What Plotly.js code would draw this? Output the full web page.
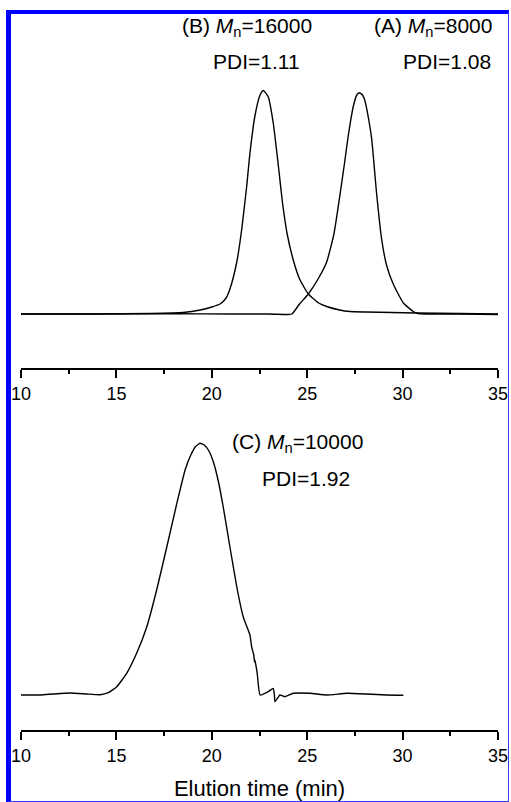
<!DOCTYPE html>
<html>
<head>
<meta charset="utf-8">
<script src="https://cdn.plot.ly/plotly-3.0.1.min.js"></script>
<style>
  html, body { margin: 0; padding: 0; background: #ffffff; }
  #chart { width: 511px; height: 802px; position: absolute; left: 0; top: 0; }
  #frame { position: absolute; left: 6px; top: 10px; width: 503px; height: 792px; box-sizing: border-box;
           border-left: 5px solid #0000ff; border-top: 4px solid #0000ff;
           border-right: 1px solid #3a3aff; border-bottom: 1px solid #3a3aff; pointer-events: none; }
</style>
</head>
<body>
<div id="chart"></div>
<div id="frame"></div>
<script>
// Elution time (min) and detector signal (arbitrary units)
const timeA = [10, 14, 18, 21, 23, 24.0, 24.2, 24.6, 25.06, 25.6, 26.02, 26.4, 26.7, 26.95, 27.15, 27.42, 27.6, 27.73, 27.9, 28.03, 28.2, 28.38, 28.64, 28.9, 29.17, 29.51, 30.04, 30.56, 30.8, 33, 35];
const sigA  = [0, 0, 0.3, 0, 0, -0.5, 0, 10, 20, 36, 52, 80, 117, 150, 178, 208, 219, 221.3, 219, 213, 197, 175, 120, 75, 48, 30, 11, 2.5, 0.5, 0, -0.5];

const timeB = [10, 14, 16.8, 18.5, 19.4, 20.0, 20.43, 20.75, 20.95, 21.3, 21.57, 21.83, 22.0, 22.26, 22.53, 22.70, 22.96, 23.22, 23.49, 23.7, 23.95, 24.27, 24.6, 25.06, 25.6, 26.02, 26.7, 27.24, 28.1, 30.7, 33, 35];
const sigB  = [0, 0, 0.5, 1.5, 4, 7, 10, 16, 25, 51, 85, 128, 161, 198, 219, 223.5, 217, 191, 148, 112, 80, 54, 35, 20, 11, 7.5, 4, 2.5, 2, 1, 0.5, 0];

const timeC = [10, 11.0, 11.69, 12.57, 13.44, 14.14, 14.58, 15.02, 15.54, 16.06, 16.59, 17.11, 17.64, 18.16, 18.6, 18.9, 19.15, 19.38, 19.6, 19.85, 20.1, 20.35, 20.60, 20.95, 21.31, 21.65, 22.0, 22.09, 22.2, 22.24, 22.26, 22.38, 22.53, 22.96, 23.22, 23.28, 23.31, 23.57, 23.84, 24.27, 25.15, 26.02, 27.07, 28.12, 29.17, 30.04];
const sigC  = [0, 0, 1, 2, 1, 0.3, 2.3, 8.3, 21.7, 41.7, 68, 105, 148, 191, 225, 240, 248.5, 251.7, 250, 244, 232, 213, 188, 148, 108, 78, 60, 48, 40, 33, 35, 21.7, 0, 3.3, 6.7, 0, -6.7, 0, -1.7, 1.7, 1.7, 0, 1.7, 1, 0, -0.3];

const xTicks = [10, 15, 20, 25, 30, 35];

// sample labels
const labelsTop = ['(B) <i>M</i><sub>n</sub>=16000', 'PDI=1.11', '(A) <i>M</i><sub>n</sub>=8000', 'PDI=1.08'];
const labelsBottom = ['(C) <i>M</i><sub>n</sub>=10000', 'PDI=1.92'];

const lineStyle = {color: '#000000', width: 1.4, shape: 'spline', smoothing: 0.5};

const traces = [
  {x: timeB, y: sigB, type: 'scatter', mode: 'lines', line: lineStyle, xaxis: 'x', yaxis: 'y', name: 'B', hoverinfo: 'skip'},
  {x: timeA, y: sigA, type: 'scatter', mode: 'lines', line: lineStyle, xaxis: 'x', yaxis: 'y', name: 'A', hoverinfo: 'skip'},
  {x: timeC, y: sigC, type: 'scatter', mode: 'lines', line: {color: '#000000', width: 1.4, shape: 'spline', smoothing: 0.4}, xaxis: 'x2', yaxis: 'y2', name: 'C', hoverinfo: 'skip'}
];

const fontFam = '"Liberation Sans", Arial, sans-serif';
const xAxisBase = {
  range: [10, 35], showline: true, linecolor: '#000', linewidth: 2,
  ticks: 'outside', ticklen: 8, tickwidth: 2, tickcolor: '#000',
  tickvals: xTicks, ticktext: xTicks.map(String),
  minor: {ticks: 'outside', ticklen: 4, tickwidth: 2, tickcolor: '#000', dtick: 2.5, tick0: 10, showgrid: false},
  showgrid: false, zeroline: false,
  tickfont: {family: fontFam, size: 18, color: '#000'}
};

const annFont = {family: fontFam, size: 21, color: '#000'};
function pxX(px) { return (px - 21) / 477; }
function pxY(py) { return (730 - py) / 730; }

const labelPos = [[246.5, 27], [256, 62], [432.5, 27], [447, 62], [297, 443], [306, 478]];
const allLabels = labelsTop.concat(labelsBottom);

const layout = {
  width: 511, height: 802,
  margin: {l: 21, r: 13, t: 0, b: 72},
  paper_bgcolor: '#ffffff', plot_bgcolor: '#ffffff',
  showlegend: false,
  font: {family: fontFam, color: '#000', size: 18},
  xaxis: Object.assign({}, xAxisBase, {anchor: 'y', domain: [0, 1]}),
  yaxis: {domain: [pxY(368), pxY(20)], range: [-54, 294], visible: false, fixedrange: true},
  xaxis2: Object.assign({}, xAxisBase, {anchor: 'y2', domain: [0, 1],
    title: {text: 'Elution time (min)', font: {family: fontFam, size: 22, color: '#000'}, standoff: 16}}),
  yaxis2: {domain: [0, pxY(400)], range: [-35, 295], visible: false, fixedrange: true},
  annotations: allLabels.map(function (t, i) {
    return {xref: 'paper', yref: 'paper', x: pxX(labelPos[i][0]), y: pxY(labelPos[i][1]),
            xanchor: 'center', yanchor: 'middle', showarrow: false, text: t, font: annFont};
  })
};

Plotly.newPlot('chart', traces, layout, {displayModeBar: false, staticPlot: true});
</script>
</body>
</html>
